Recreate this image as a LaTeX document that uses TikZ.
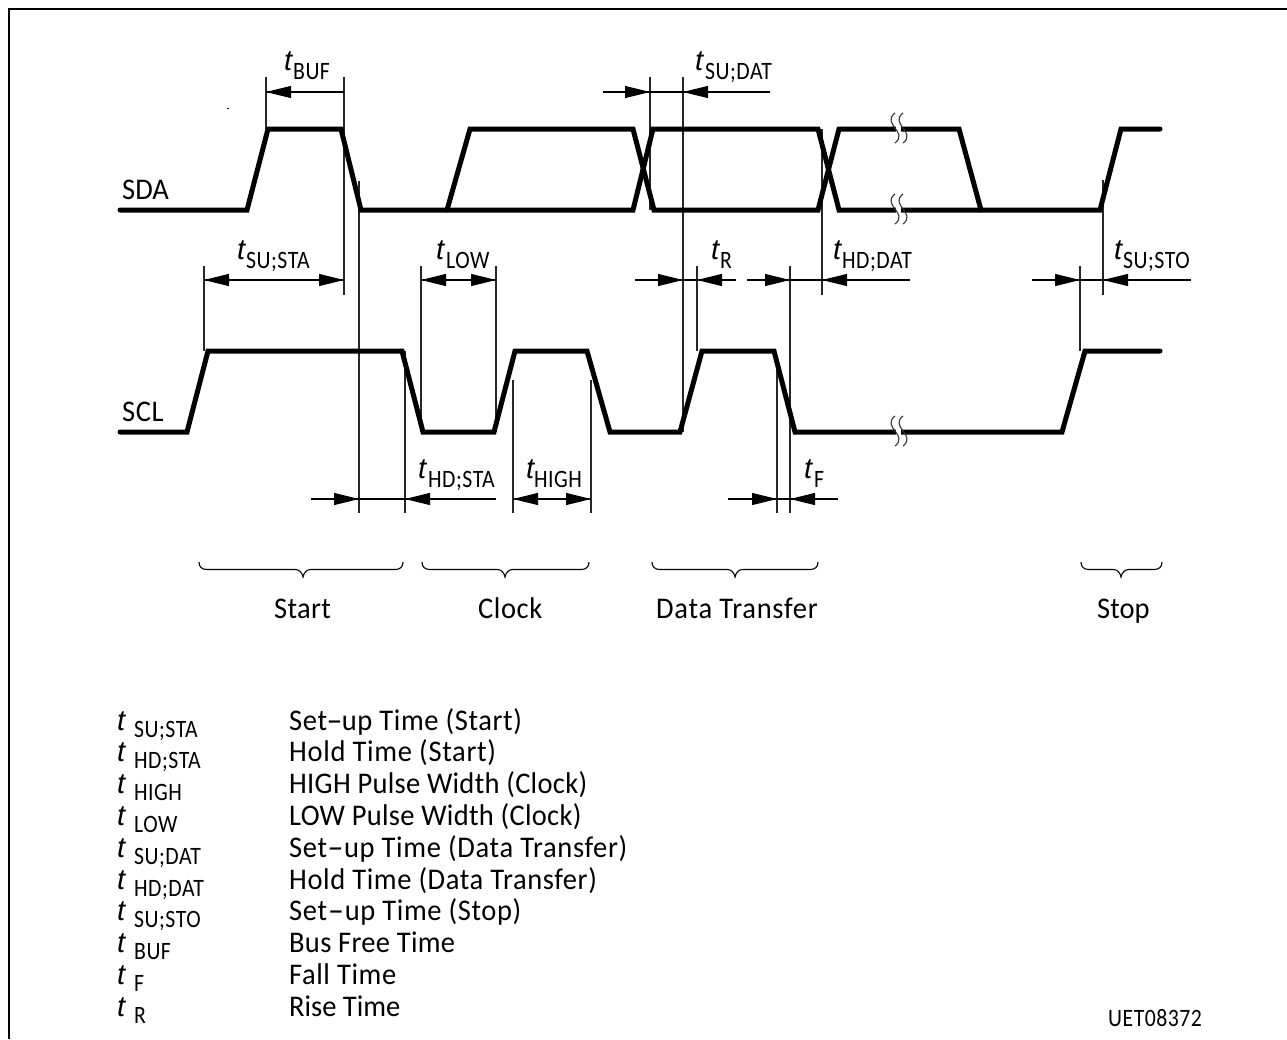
\documentclass[tikz,border=0pt]{standalone}
\usepackage{fontspec}
\usepackage{graphicx}
\setmainfont{Carlito}
\usetikzlibrary{arrows.meta}
\newfontfamily\isofont[FakeStretch=0.95,LetterSpace=2]{Carlito}
\newfontfamily\subfont[FakeStretch=0.87,LetterSpace=2]{Carlito}
\newfontfamily\tfont[ItalicFont={Liberation Sans Italic}]{Liberation Sans Italic}
\newcommand{\longhy}[1]{\kern#1pt\scalebox{1.7}[1]{-}\kern#1pt }
\tikzset{
  sig/.style={line width=5pt,line cap=round,line join=miter,miter limit=3,black},
  thin line/.style={line width=1.1pt,black!85},
  dim/.style={line width=1.1pt,black},
  head/.style={-{Triangle[length=25pt,width=12pt,black]}},
  brk/.style={line width=1.1pt,black!80},
  lbl/.style={inner sep=0pt,anchor=base west,font=\isofont\fontsize{30}{30}\selectfont},
  subl/.style={inner sep=0pt,anchor=base west,font=\subfont\fontsize{25}{25}\selectfont},
  tl/.style={inner sep=0pt,anchor=base west,font=\tfont\fontsize{29}{29}\selectfont},
  brace/.style={line width=1.1pt,black}
}
\begin{document}
\begin{tikzpicture}[x=1pt,y=-1pt]
\useasboundingbox (0,0) rectangle (1287,1039);
\fill[white] (0,0) rectangle (1287,1039);
% frame
\draw[line width=2pt] (8.5,1039) -- (8.5,9) -- (1287,9);
\fill (227,108) rectangle (229,109);

% extension lines
\foreach \x/\a/\b in {266/77/129,344/77/295,359/181/513,204/266/351,421/266/432,496/266/432,405/351/513,513/380/513,591/380/513,650/77/210,683/77/432,697/266/351,790/266/513,777/370/513,822/129/295,1080/266/351,1103/180/295}
  \draw[thin line] (\x,\a) -- (\x,\b);

% signals
\draw[sig] (120,210) -- (247,210) -- (268,129) -- (341,129) -- (361,210) -- (633,210) -- (653,129) -- (818,129) -- (839,210) -- (1100,210) -- (1121,129) -- (1160,129);
\draw[sig] (447,210) -- (470,129) -- (633,129) -- (654,210) -- (818,210) -- (839,129) -- (959,129) -- (981,210);
\draw[sig] (120,432) -- (187,432) -- (208,351) -- (402,351) -- (423,432) -- (494,432) -- (515,351) -- (587,351) -- (610,432) -- (680,432) -- (702,351) -- (774,351) -- (795,432) -- (1062,432) -- (1085,351) -- (1160,351);

% break marks
\foreach \y in {129,210,432}{
  \fill[white] (896,\y-3) rectangle (901,\y+3);
  \draw[brk] (895,\y-16) .. controls (881,\y-5) and (909,\y+3) .. (895,\y+14);
  \draw[brk] (903,\y-16) .. controls (889,\y-5) and (917,\y+3) .. (903,\y+14);
}

% outward dimensions
\foreach \y/\l/\r in {280/204/344,280/421/496,499/513/591}{
  \draw[dim] (\l,\y) -- (\r,\y);
  \draw[dim,head] (\l+26,\y) -- (\l,\y);
  \draw[dim,head] (\r-26,\y) -- (\r,\y);
}
% single head tBUF
\draw[dim] (266,92) -- (344,92);
\draw[dim,head] (292,92) -- (266,92);
% inward dimensions
\foreach \y/\s/\l/\r/\e in {92/603/650/683/770,280/635/683/697/736,280/747/790/822/910,280/1032/1080/1103/1191,499/311/359/405/496,499/728/777/790/838}{
  \draw[dim] (\s,\y) -- (\e,\y);
  \draw[dim,head] (\l-26,\y) -- (\l,\y);
  \draw[dim,head] (\r+26,\y) -- (\r,\y);
}

% braces
\foreach \l/\m/\r in {199/303/403,422/505/589,652/735/818,1081/1121/1162}{
  \draw[brace] (\l,562) .. controls (\l,567) and (\l+3,569.5) .. (\l+8,569.5) -- (\m-8,569.5)
     .. controls (\m-4,569.5) and (\m-1,572) .. (\m,577) .. controls (\m+1,572) and (\m+4,569.5) .. (\m+8,569.5)
     -- (\r-8,569.5) .. controls (\r-3,569.5) and (\r,567) .. (\r,562);
}

% signal names and group names
\node[lbl] (sda) at (122,199) {\addfontfeature{LetterSpace=0}SDA};
\node[lbl] (scl) at (122,421) {SCL};
\node[lbl] (start) at (274,618) {\addfontfeature{LetterSpace=1}Start};
\node[lbl] (clock) at (478,618) {Clock};
\node[lbl] (data) at (656,618) {\addfontfeature{LetterSpace=2.5}Data Transfer};
\node[lbl] (stop) at (1097,618) {\addfontfeature{LetterSpace=0}Stop};

% timing labels
\foreach \n/\tx/\sx/\by/\s in {a/284/293/79/BUF,b/237/246/268/SU;STA,c/436/446/268/LOW,d/695/705/79/SU;DAT,e/711/720/268/R,f/833/842/268/HD;DAT,g/1114/1123/268/SU;STO,h/418/428/487/HD;STA,i/526/534/487/HIGH,j/804/814/487/F}{
  \node[tl] (t\n) at (\tx,\by-9) {t};
  \node[subl] (s\n) at (\sx,\by) {\s};
}

% legend
\foreach \i/\s/\ls/\dtext in {0/SU;STA/2/Set\longhy{0}up Time (Start),1/HD;STA/2.3/Hold Time (Start),2/HIGH/1/HIGH Pulse Width (Clock),3/LOW/1/LOW Pulse Width (Clock),4/SU;DAT/2.2/Set\longhy{1}up Time (Data Transfer),5/HD;DAT/2/Hold Time (Data Transfer),6/SU;STO/2/Set\longhy{1.5}up Time (Stop),7/BUF/1/Bus Free Time,8/F/2/Fall Time,9/R/0/Rise Time}{
  \pgfmathsetmacro\yy{730+31.8*\i}
  \node[tl] (lt\i) at (117,\yy) {t};
  \node[subl] (ls\i) at (134,\yy+7) {\s};
  \node[lbl] (ld\i) at (289,\yy) {\addfontfeature{LetterSpace=\ls}\dtext};
}
\node[subl] (code) at (1108,1026) {UET08372};
\end{tikzpicture}
\end{document}
